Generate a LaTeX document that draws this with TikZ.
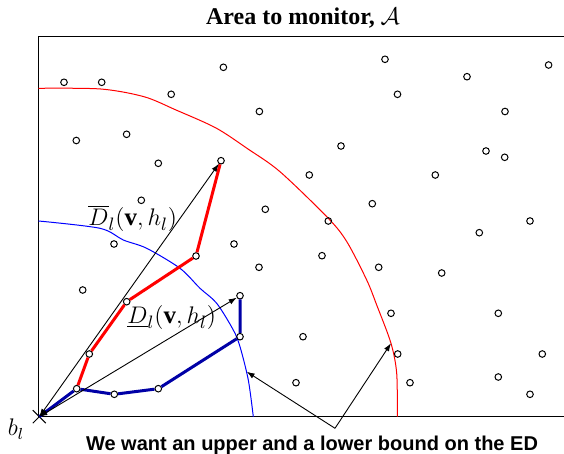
\documentclass[tikz,border=0pt]{standalone}
\usepackage{fontspec}
\setmainfont{Liberation Serif}
\setsansfont{Liberation Sans}
\usetikzlibrary{arrows.meta,shapes.misc}

\begin{document}
\begin{tikzpicture}[x=0.5pt,y=-0.5pt,
  sensor/.style={circle,draw,line width=0.5pt,inner sep=0pt,minimum size=3.3pt},
  bound/.style={line width=0.45pt,{Latex[length=4pt,width=2.8pt]}-{Latex[length=4pt,width=2.8pt]}},
  upperpath/.style={red,line width=1.5pt},
  lowerpath/.style={blue!65!black,line width=1.5pt},
  lbl/.style={anchor=base west,inner sep=0pt,font=\fontsize{12.5}{15}\selectfont}]
\useasboundingbox (0,0) rectangle (564,454);
% area box
\draw[line width=0.6pt] (564,36.5) -- (38.5,36.5) -- (38.5,416.7) -- (564,416.7);
\node[anchor=base,font=\large\bfseries] (title) at (303,25) {Area to monitor, $\mathcal{A}$};
% estimated ranges
\draw[red,line width=0.5pt] plot[smooth,tension=0.5] coordinates {(38.5,88.3) (100.7,89) (144,96.7) (176,110) (216,128) (248,149) (280,171.7) (328.3,218.3) (347,242) (366.7,280) (376.7,305) (391,343.3) (396.7,373.3) (397.3,416.7)};
\draw[blue,line width=0.5pt] plot[smooth,tension=0.5] coordinates {(38.5,221) (100,228.3) (123.3,240) (146.7,248.3) (180,268.3) (200,288.3) (216.7,303.3) (233.3,330) (240,346.7) (248.3,380) (253.3,416.7)};
% sensors
\foreach \x/\y [count=\i] in {64/82.3, 101.7/82.3, 171.2/94.3, 223.4/67.3, 259.4/111.5, 385/59.3, 397.5/94.3, 467/76.7, 505/111.5, 548.6/65,
  76.3/140.5, 126.6/134.3, 341/146, 486/151, 504.7/157.3, 158.3/163.3, 309.3/175, 435.3/175, 141.3/200.3, 265.3/209.3,
  372.3/203.7, 328.3/221, 530/221, 479.3/232.7, 114/244, 234/244, 322/255.7, 259/267.3, 378.7/267.3, 441.7/273,
  82.7/290, 391/313.3, 498.3/313.3, 303/336.7, 397.7/354, 542.3/354, 498.3/377, 296/382.7, 410/382.7, 530/394.3}
  \node[sensor] (s\i) at (\x,\y) {};
% base station
\node[cross out,draw,line width=0.5pt,minimum size=6pt,inner sep=0pt] (bl) at (39.3,416.7) {};
\node[anchor=base,font=\large] (bllabel) at (16,436) {$b_l$};
% path vertices
\node[sensor] (w1) at (76.7,388.7) {};
\node[sensor] (w2) at (114.3,394.3) {};
\node[sensor] (w3) at (158.3,388.7) {};
\node[sensor] (w4) at (240,336.7) {};
\node[sensor] (w5) at (240,295.7) {};
\node[sensor] (u1) at (89.3,354) {};
\node[sensor] (u2) at (126.7,301.7) {};
\node[sensor] (u3) at (196,256) {};
\node[sensor] (u4) at (221,160.7) {};
\draw[upperpath] (w1) -- (u1) -- (u2) -- (u3) -- (u4);
\draw[lowerpath] (bl.center) -- (w1) -- (w2) -- (w3) -- (w4) -- (w5);
\draw[bound] (bl.center) -- (u4);
\draw[bound] (bl.center) -- (w5);
\node[lbl] (upperlbl) at (88,226) {$\overline{D}_l(\mathbf{v},h_l)$};
\node[lbl] (lowerlbl) at (127,324) {$\underline{D}_l(\mathbf{v},h_l)$};
% pointers to the two bounds
\coordinate (lowhit) at (246.7,371.7);
\coordinate (apex) at (335,428.3);
\coordinate (uphit) at (391,343.3);
\draw[line width=0.45pt,-{Latex[length=4pt,width=2.8pt]}] (apex) -- (lowhit);
\draw[line width=0.45pt,-{Latex[length=4pt,width=2.8pt]}] (apex) -- (uphit);
\node[anchor=base,font=\sffamily\bfseries] (caption) at (312,451) {We want an upper and a lower bound on the ED};
\end{tikzpicture}
\end{document}
